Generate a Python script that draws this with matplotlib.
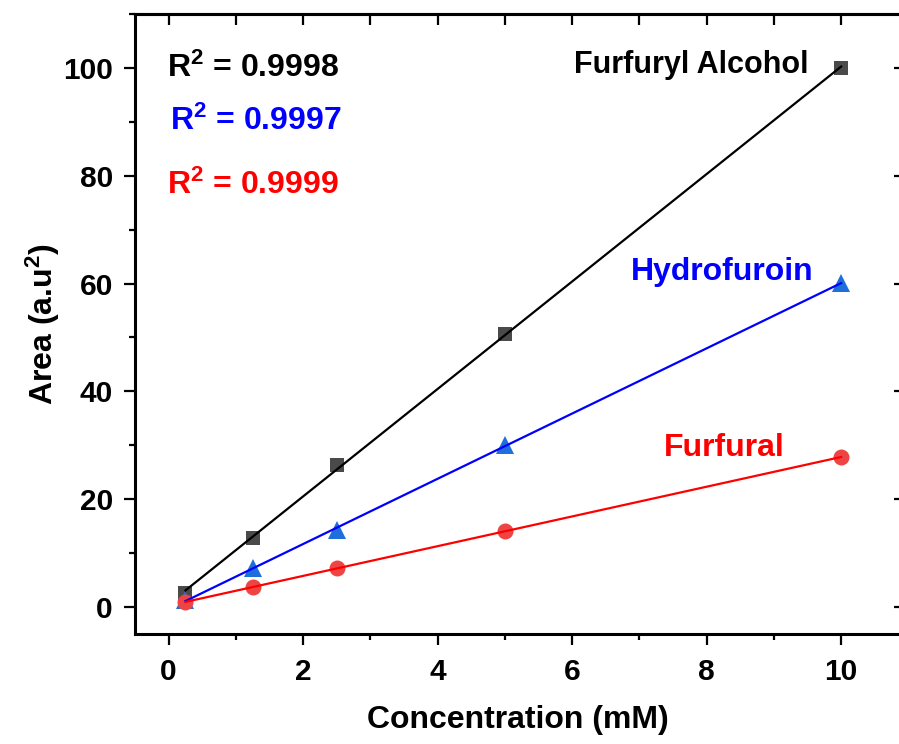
import numpy as np
import matplotlib
matplotlib.use("Agg")
import matplotlib.pyplot as plt
from matplotlib.ticker import MultipleLocator

plt.rcParams['font.family'] = ['Liberation Sans', 'DejaVu Sans']
plt.rcParams['font.weight'] = 'bold'
plt.rcParams['mathtext.fontset'] = 'custom'
plt.rcParams['mathtext.rm'] = 'Liberation Sans:bold'
plt.rcParams['mathtext.it'] = 'Liberation Sans:bold'
plt.rcParams['mathtext.bf'] = 'Liberation Sans:bold'

conc = [0.25, 1.25, 2.5, 5, 10]
furfuryl_alcohol = [2.6, 12.8, 26.3, 50.6, 100.0]
hydrofuroin = [1.3, 7.2, 14.3, 30.0, 60.1]
furfural = [0.9, 3.7, 7.2, 14.1, 27.8]
r2_labels = ["R$^2$ = 0.9998", "R$^2$ = 0.9997", "R$^2$ = 0.9999"]
names = ["Furfuryl Alcohol", "Hydrofuroin", "Furfural"]

fig = plt.figure(figsize=(8.99, 7.44), dpi=100)
ax = fig.add_axes([135/899, 110/744, (901-135)/899, (634-14)/744])

x = np.array(conc)
series = [
    (furfuryl_alcohol, 's', '#4a4a4a', '#000000', 10),
    (hydrofuroin, '^', '#1e6fdc', '#0000ff', 13.5),
    (furfural, 'o', '#ef4444', '#ff0000', 11.5),
]
for ys, mk, mc, lc, ms in series:
    y = np.array(ys)
    ax.plot(x, y, linestyle='none', marker=mk, color=mc, markersize=ms,
            markeredgewidth=0, zorder=2)
    k, b = np.polyfit(x, y, 1)
    xf = np.array([x.min(), x.max()])
    ax.plot(xf, k * xf + b, color=lc, linewidth=1.6, zorder=3)

ax.set_xlim(-0.5, 10.89)
ax.set_ylim(-5, 110)
ax.xaxis.set_major_locator(MultipleLocator(2))
ax.xaxis.set_minor_locator(MultipleLocator(1))
ax.yaxis.set_major_locator(MultipleLocator(20))
ax.yaxis.set_minor_locator(MultipleLocator(10))
ax.tick_params(which='major', direction='out', length=8, width=1.6,
               labelsize=21.5, top=False, right=False)
ax.tick_params(axis='x', which='major', pad=9)
ax.tick_params(axis='y', which='major', pad=8)
ax.tick_params(which='minor', direction='out', length=4, width=1.6,
               top=False, right=False)
for lab in ax.get_xticklabels() + ax.get_yticklabels():
    lab.set_fontweight('bold')
for sp in ax.spines.values():
    sp.set_linewidth(2.2)

secx = ax.secondary_xaxis('top')
secx.set_xticks(range(0, 11))
secx.tick_params(direction='in', length=8, width=1.6, labeltop=False)
secx.spines['top'].set_linewidth(2.2)
secy = ax.secondary_yaxis('right')
secy.set_yticks(range(0, 101, 20))
secy.tick_params(direction='in', length=5, width=1.6, labelright=False)
secy.spines['right'].set_linewidth(2.2)

ax.set_xlabel("Concentration (mM)", fontsize=23, fontweight='bold', labelpad=14)
ax.set_ylabel("Area (a.u$^2$)", fontsize=23, fontweight='bold', labelpad=1)

ax.text(-0.02, 100.0, r2_labels[0], color='black', fontsize=23,
        fontweight='bold', ha='left', va='center')
ax.text(0.025, 90.0, r2_labels[1], color='#0000ff', fontsize=23,
        fontweight='bold', ha='left', va='center')
ax.text(-0.02, 78.3, r2_labels[2], color='#ff0000', fontsize=23,
        fontweight='bold', ha='left', va='center')
ax.text(9.52, 100.6, names[0], color='black', fontsize=22,
        fontweight='bold', ha='right', va='center')
ax.text(6.88, 62.2, names[1], color='#0000ff', fontsize=23,
        fontweight='bold', ha='left', va='center')
ax.text(7.36, 29.5, names[2], color='#ff0000', fontsize=23,
        fontweight='bold', ha='left', va='center')

fig.savefig("out.png", dpi=100)
